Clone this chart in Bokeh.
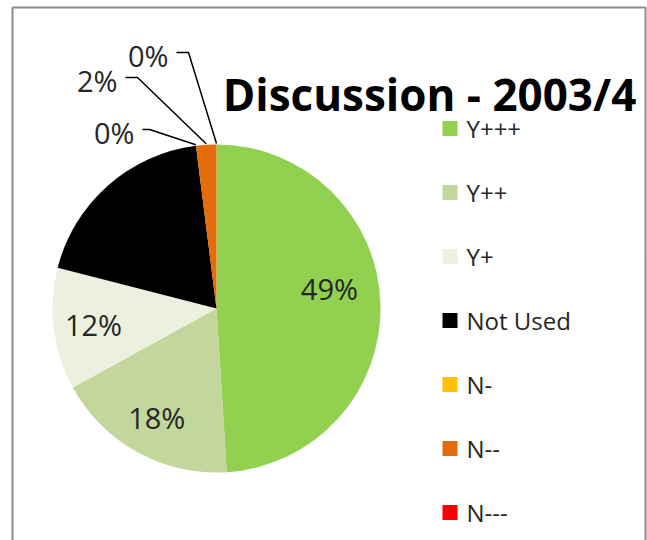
import math
from bokeh.plotting import figure
from bokeh.models import Range1d, ColumnDataSource
from bokeh.core.properties import value
from bokeh.embed import file_html
from bokeh.resources import INLINE

# ---- data ----
categories = ["Y+++", "Y++", "Y+", "Not Used", "N-", "N--", "N---"]
percent = [49, 18, 12, 19, 0, 2, 0]
colors = ["#92D050", "#C3D69B", "#EBF1DE", "#000000", "#FFC000", "#E46C0A", "#FF0000"]
title_text = "Discussion - 2003/4"

# ---- layout (picture pixel coords; y measured from the top) ----
PW, PH = 647, 540
def Y(iy):
    return PH - iy

CX, CY, R = 216, 308, 164
FONT = "Open Sans"
TXT = "#262626"

p = figure(width=PW, height=PH, output_backend="svg", toolbar_location=None,
           x_range=Range1d(0, PW), y_range=Range1d(0, PH), min_border=0)
p.axis.visible = False
p.grid.visible = False
p.outline_line_color = None
p.background_fill_color = "white"
p.border_fill_color = "white"

# chart frame
p.quad(left=12, right=645, top=Y(7), bottom=Y(560), fill_color=None,
       line_color="#8c8c8c", line_width=2)

# ---- pie wedges ----
total = float(sum(percent))
starts, ends, mids = [], [], []
cum = 0.0
for v in percent:
    a0 = math.pi / 2 - 2 * math.pi * cum / total
    cum += v
    a1 = math.pi / 2 - 2 * math.pi * cum / total
    starts.append(a0)
    ends.append(a1)
    mids.append((a0 + a1) / 2)

idx = [i for i, v in enumerate(percent) if v > 0]
src = ColumnDataSource(dict(
    x=[CX] * len(idx), y=[Y(CY)] * len(idx),
    start=[starts[i] for i in idx], end=[ends[i] for i in idx],
    color=[colors[i] for i in idx]))
p.wedge(x="x", y="y", radius=R, radius_units="screen", start_angle="start",
        end_angle="end", direction="clock", fill_color="color", line_color=None,
        source=src)

labels = ["%d%%" % round(v) for v in percent]

# inside labels (Not Used label is black on black -> not shown)
inside = [0, 1, 2]
nudge = {0: (-11, 16)}
r_lab = 124
ix, iy, it = [], [], []
for i in inside:
    dx, dy = nudge.get(i, (0, 0))
    ix.append(CX + r_lab * math.cos(mids[i]) + dx)
    iy.append(Y(CY) + r_lab * math.sin(mids[i]) + dy)
    it.append(labels[i])
p.text(x=ix, y=iy, text=it, text_font=value(FONT), text_font_size="29px",
       text_color=TXT, text_align="center", text_baseline="middle")

# outside labels with leader lines: index -> (label right x, baseline y, elbow x)
outside = {4: (134, 132, 149), 5: (117, 80, 137), 6: (168, 55, 188)}
ox, oy, ot = [], [], []
lxs, lys = [], []
for i, (rx, by, ex) in outside.items():
    ox.append(rx)
    oy.append(Y(by))
    ot.append(labels[i])
    px = CX + (R + 1) * math.cos(mids[i])
    py = Y(CY) + (R + 1) * math.sin(mids[i])
    ly = Y(by - 3)
    lxs.append([rx + 8, ex, px])
    lys.append([ly, ly, py])
p.multi_line(xs=lxs, ys=lys, line_color="black", line_width=1.5)
p.text(x=ox, y=oy, text=ot, text_font=value(FONT), text_font_size="29px",
       text_color=TXT, text_align="right", text_baseline="alphabetic")

# ---- title ----
p.text(x=[429], y=[Y(93)], text=[title_text], text_font=value(FONT),
       text_font_style="bold", text_font_size="44px", text_color="black",
       text_align="center", text_baseline="alphabetic")

# ---- legend ----
leg_x, leg_y0, leg_dy = 449.5, 128, 64
ly_list = [Y(leg_y0 + k * leg_dy) for k in range(len(categories))]
p.rect(x=[leg_x] * len(categories), y=ly_list, width=15, height=15,
       width_units="screen", height_units="screen", fill_color=colors,
       line_color=None)
p.text(x=[466] * len(categories), y=ly_list, text=categories,
       text_font=value(FONT), text_font_size="24px", text_color=TXT,
       text_align="left", text_baseline="middle")

open("out.html", "w").write(file_html(p, INLINE))
